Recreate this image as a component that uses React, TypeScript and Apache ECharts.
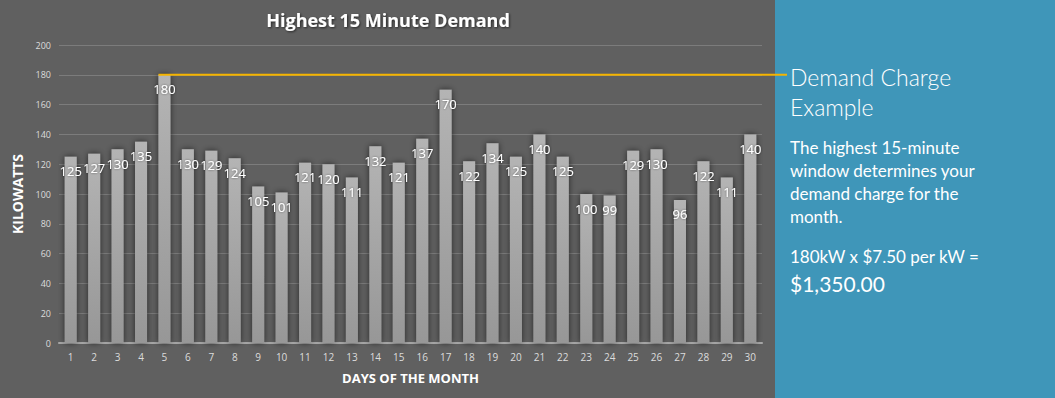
import React, { useEffect, useRef } from "react";
import * as echarts from "echarts";

const days = ["1","2","3","4","5","6","7","8","9","10","11","12","13","14","15","16","17","18","19","20","21","22","23","24","25","26","27","28","29","30"];
const demandKw = [125,127,130,135,180,130,129,124,105,101,121,120,111,132,121,137,170,122,134,125,140,125,100,99,129,130,96,122,111,140];
const peakKw = 180;
const peakDayIndex = 4;
const yTicks = { min: 0, max: 200, interval: 20 };
const title = "Highest 15 Minute Demand";
const yName = "KILOWATTS";
const xName = "DAYS OF THE MONTH";
const panelHeading = ["Demand Charge", "Example"];
const panelBody = ["The highest 15-minute", "window determines your", "demand charge for the", "month."];
const panelFormula = "180kW x $7.50 per kW =";
const panelTotal = "$1,350.00";

export default function App() {
  const ref = useRef<HTMLDivElement>(null);
  useEffect(() => {
    document.body.style.margin = "0";
    const chart = echarts.init(ref.current!, null, { renderer: "svg" });
    const barWidth = 12;
    const font = "'Open Sans', sans-serif";
    const panelFont = "Lato, 'Open Sans', sans-serif";
    chart.setOption({
      animation: false,
      backgroundColor: "#606060",
      grid: { left: 59, right: 293, top: 45, bottom: 55, containLabel: false },
      xAxis: {
        type: "category",
        data: days,
        name: xName,
        nameLocation: "middle",
        nameGap: 28,
        nameTextStyle: { color: "#ffffff", fontSize: 13, fontWeight: "bold", fontFamily: font },
        axisLine: { lineStyle: { color: "#a8a8a8", width: 2 } },
        axisTick: { show: false },
        axisLabel: { color: "#dcdcdc", fontSize: 10, margin: 9, fontFamily: font },
      },
      yAxis: {
        type: "value",
        min: yTicks.min,
        max: yTicks.max,
        interval: yTicks.interval,
        name: yName,
        nameLocation: "middle",
        nameGap: 34,
        nameRotate: 90,
        nameTextStyle: { color: "#ffffff", fontSize: 14, fontWeight: "bold", fontFamily: font },
        axisLine: { show: false },
        axisTick: { show: false },
        axisLabel: { color: "#dcdcdc", fontSize: 9, margin: 8, fontFamily: font },
        splitLine: { lineStyle: { color: "#7c7c7c", width: 1 } },
      },
      series: [
        {
          type: "bar",
          data: demandKw,
          barWidth,
          itemStyle: {
            color: new echarts.graphic.LinearGradient(0, 0, 0, 1, [
              { offset: 0, color: "#b4b4b4" },
              { offset: 1, color: "#979797" },
            ]),
            shadowColor: "rgba(0,0,0,0.6)",
            shadowBlur: 6,
          },
          label: {
            show: true,
            position: "insideTop",
            distance: 8,
            color: "#ffffff",
            fontSize: 13,
            fontFamily: font,
            textShadowColor: "rgba(0,0,0,0.5)",
            textShadowBlur: 2,
          },
        },
      ],
    });
    const [px, py] = chart.convertToPixel({ xAxisIndex: 0, yAxisIndex: 0 }, [peakDayIndex, peakKw]) as number[];
    const panelX = 775;
    const tx = 790;
    const texts: any[] = [];
    panelHeading.forEach((t, i) =>
      texts.push({ type: "text", x: tx, y: 77 + i * 30, style: { text: t, fill: "#ffffff", font: `300 23px ${panelFont}`, textVerticalAlign: "middle" } })
    );
    panelBody.forEach((t, i) =>
      texts.push({ type: "text", x: tx, y: 147 + i * 23, style: { text: t, fill: "#ffffff", font: `17px ${panelFont}`, textVerticalAlign: "middle" } })
    );
    texts.push({ type: "text", x: tx, y: 256, style: { text: panelFormula, fill: "#ffffff", font: `17px ${panelFont}`, textVerticalAlign: "middle" } });
    texts.push({ type: "text", x: tx, y: 283, style: { text: panelTotal, fill: "#ffffff", font: `21px ${panelFont}`, textVerticalAlign: "middle" } });
    chart.setOption({
      graphic: [
        { type: "rect", shape: { x: panelX, y: 0, width: 1055 - panelX, height: 398 }, style: { fill: "#3f96b9" }, z: 0 },
        { type: "line", shape: { x1: px - barWidth / 2, y1: py, x2: 787, y2: py }, style: { stroke: "#f5b400", lineWidth: 2 }, z: 10 },
        {
          type: "text",
          x: 388,
          y: 20,
          style: {
            text: title,
            fill: "#ffffff",
            font: `bold 18px ${font}`,
            textAlign: "center",
            textVerticalAlign: "middle",
            textShadowColor: "rgba(0,0,0,0.6)",
            textShadowBlur: 2,
            textShadowOffsetX: 1,
            textShadowOffsetY: 1,
          },
        },
        ...texts,
      ],
    });
    return () => chart.dispose();
  }, []);
  return <div ref={ref} style={{ position: "fixed", left: 0, top: 0, width: 1055, height: 398 }} />;
}
